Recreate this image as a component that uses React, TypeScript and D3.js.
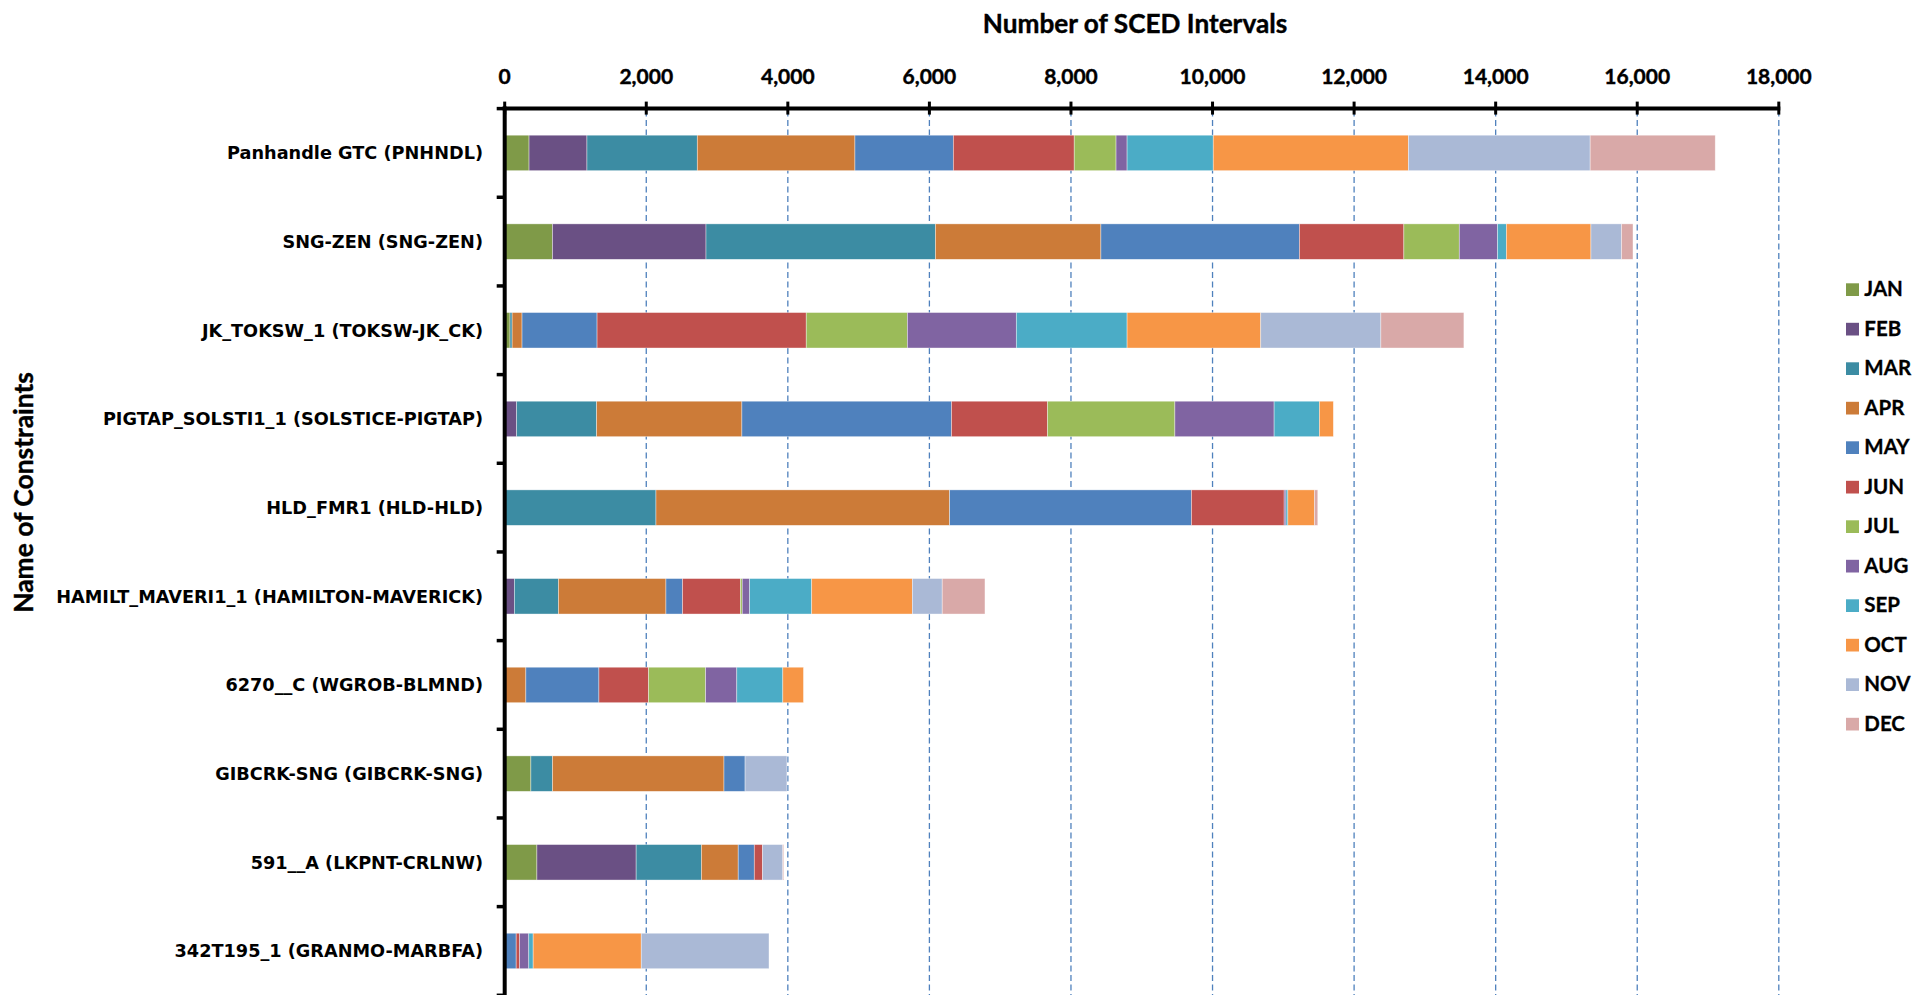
import React from "react";
import * as d3 from "d3";

const categories = [
  "Panhandle GTC (PNHNDL)",
  "SNG-ZEN (SNG-ZEN)",
  "JK_TOKSW_1 (TOKSW-JK_CK)",
  "PIGTAP_SOLSTI1_1 (SOLSTICE-PIGTAP)",
  "HLD_FMR1 (HLD-HLD)",
  "HAMILT_MAVERI1_1 (HAMILTON-MAVERICK)",
  "6270__C (WGROB-BLMND)",
  "GIBCRK-SNG (GIBCRK-SNG)",
  "591__A (LKPNT-CRLNW)",
  "342T195_1 (GRANMO-MARBFA)",
];

const months = ["JAN", "FEB", "MAR", "APR", "MAY", "JUN", "JUL", "AUG", "SEP", "OCT", "NOV", "DEC"];

const jan = [344, 675, 75, 0, 0, 15, 0, 370, 455, 0];
const feb = [818, 2169, 0, 169, 0, 122, 0, 0, 1402, 0];
const mar = [1559, 3241, 30, 1130, 2137, 622, 0, 305, 922, 0];
const apr = [2227, 2338, 140, 2052, 4149, 1519, 299, 2423, 520, 0];
const may = [1390, 2804, 1060, 2961, 3416, 234, 1032, 298, 227, 162];
const jun = [1708, 1476, 2955, 1357, 1310, 818, 702, 0, 117, 48];
const jul = [591, 783, 1429, 1799, 0, 26, 805, 0, 0, 0];
const aug = [156, 541, 1539, 1402, 25, 104, 441, 0, 0, 130];
const sep = [1217, 124, 1565, 639, 27, 877, 650, 0, 0, 62];
const oct = [2757, 1195, 1888, 198, 375, 1422, 292, 0, 0, 1527];
const nov = [2568, 432, 1697, 0, 0, 422, 0, 591, 286, 1805];
const dec = [1767, 162, 1173, 0, 48, 604, 0, 0, 13, 0];

const seriesValues = [jan, feb, mar, apr, may, jun, jul, aug, sep, oct, nov, dec];

const monthColors = [
  "#7F9A48", "#6A5084", "#3C8CA3", "#CC7B38", "#4F81BD", "#C0504D",
  "#9BBB59", "#8064A2", "#4BACC6", "#F79646", "#AAB9D6", "#D9A9A8",
];

const xTicks = [0, 2000, 4000, 6000, 8000, 10000, 12000, 14000, 16000, 18000];

const W = 1913;
const H = 995;

export default function App() {
  const x = d3.scaleLinear().domain([0, 18000]).range([504.7, 1778.8]);
  const y = d3
    .scaleBand<string>()
    .domain(categories)
    .range([108.6, 995.3])
    .paddingInner(0.6)
    .paddingOuter(0.3);

  const rows = categories.map((c, i) => {
    const r: Record<string, number | string> = { cat: c };
    months.forEach((m, j) => (r[m] = seriesValues[j][i]));
    return r;
  });
  const stacked = d3.stack<any>().keys(months)(rows as any);

  const fmt = d3.format(",");
  const axisY = 108.6;
  const axisX = 504.7;
  const step = y.step();
  const boundaries = d3.range(categories.length + 1).map((k) => 108.6 + k * step);

  const calibri = "Lato, 'Open Sans', sans-serif";
  const verdana = "'DejaVu Sans', Verdana, sans-serif";

  return (
    <svg
      width={W}
      height={H}
      style={{ position: "absolute", left: 0, top: 0, background: "#fff" }}
    >
      {/* gridlines */}
      {xTicks.slice(1).map((t) => (
        <line
          key={"g" + t}
          x1={x(t)}
          x2={x(t)}
          y1={axisY + 2}
          y2={H}
          stroke="#4F81BD"
          strokeWidth={1.3}
          strokeDasharray="6,3.5"
        />
      ))}

      {/* bars */}
      {stacked.map((s, j) => (
        <g key={months[j]} fill={monthColors[j]}>
          {s.map((d, i) =>
            d[1] - d[0] > 0 ? (
              <rect
                key={i}
                x={x(d[0])}
                y={y(categories[i])}
                width={x(d[1]) - x(d[0])}
                height={y.bandwidth()}
                stroke="rgba(255,255,255,0.55)"
                strokeWidth={0.7}
              />
            ) : null
          )}
        </g>
      ))}

      {/* top axis */}
      <line x1={axisX - 2} x2={x(18000) + 1.5} y1={axisY} y2={axisY} stroke="#000" strokeWidth={4} />
      {xTicks.map((t) => (
        <line key={"t" + t} x1={x(t)} x2={x(t)} y1={axisY - 7} y2={axisY + 6} stroke="#000" strokeWidth={3} />
      ))}
      {xTicks.map((t) => (
        <text
          key={"l" + t}
          x={x(t)}
          y={84}
          textAnchor="middle"
          fontFamily={calibri}
          fontWeight="bold"
          fontSize={21}
          fill="#000"
          stroke="#000"
          strokeWidth={0.4}
        >
          {fmt(t)}
        </text>
      ))}
      <text
        x={1135}
        y={33}
        textAnchor="middle"
        fontFamily={calibri}
        fontWeight="bold"
        fontSize={26.2}
        fill="#000"
        stroke="#000"
        strokeWidth={0.4}
      >
        Number of SCED Intervals
      </text>

      {/* left axis */}
      <line x1={axisX} x2={axisX} y1={axisY - 2} y2={H} stroke="#000" strokeWidth={4} />
      {boundaries.map((b, k) => (
        <line key={"yt" + k} x1={axisX - 8} x2={axisX} y1={b} y2={b} stroke="#000" strokeWidth={3.5} />
      ))}
      {categories.map((c) => (
        <text
          key={c}
          x={483}
          y={(y(c) as number) + y.bandwidth() / 2}
          dy="0.36em"
          textAnchor="end"
          fontFamily={verdana}
          fontWeight="bold"
          fontSize={17.7}
          fill="#000"
        >
          {c}
        </text>
      ))}
      <text
        transform={`translate(33,492.5) rotate(-90)`}
        textAnchor="middle"
        fontFamily={calibri}
        fontWeight="bold"
        fontSize={26.4}
        fill="#000"
        stroke="#000"
        strokeWidth={0.4}
      >
        Name of Constraints
      </text>

      {/* legend */}
      {months.map((m, j) => (
        <g key={"lg" + m} transform={`translate(1846,${283.3 + j * 39.5})`}>
          <rect width={13} height={12.7} fill={monthColors[j]} />
          <text
            x={18.3}
            y={12.9}
            fontFamily={calibri}
            fontWeight="bold"
            fontSize={20.5}
            fill="#000"
            stroke="#000"
            strokeWidth={0.3}
          >
            {m}
          </text>
        </g>
      ))}
    </svg>
  );
}
